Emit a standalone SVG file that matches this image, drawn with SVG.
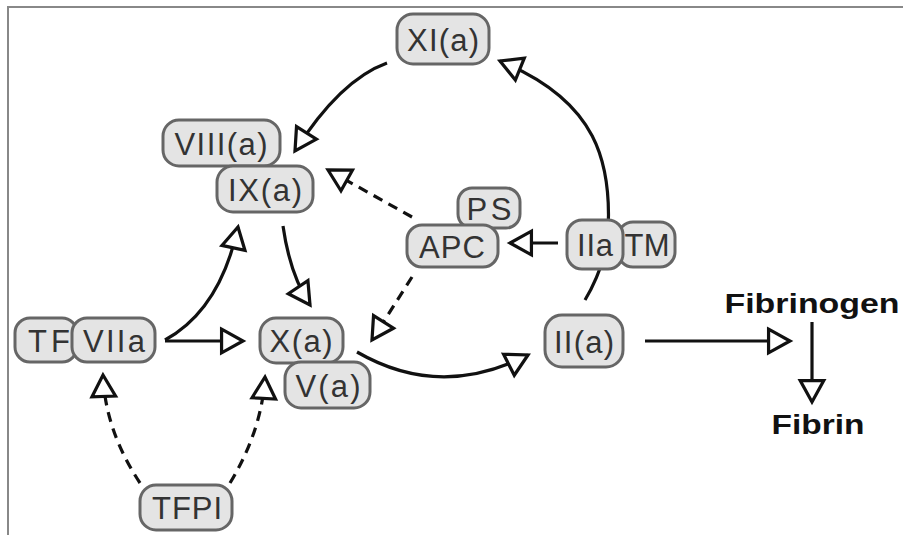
<svg xmlns="http://www.w3.org/2000/svg" width="903" height="535" viewBox="0 0 903 535">
<style>
.n rect{fill:#e4e4e4;stroke:#666;stroke-width:3}
.n text{font-family:"Liberation Sans",Arial,sans-serif;font-size:31px;fill:#333;text-anchor:middle}
.c path,.c line{fill:none;stroke:#111;stroke-width:3.2;marker-end:url(#ah)}
.c .d{stroke-dasharray:10 7}
.lbl{font-family:"Liberation Sans",Arial,sans-serif;font-weight:bold;font-size:28px;fill:#111;text-anchor:middle}
</style>
<defs>
<marker id="ah" markerUnits="userSpaceOnUse" markerWidth="30" markerHeight="30" viewBox="-3 -14 28 28" refX="20" refY="0" orient="auto">
<path d="M0,-11 L20,0 L0,11 Z" fill="#fff" stroke="#111" stroke-width="3" stroke-linejoin="miter"/>
</marker>
</defs>
<rect width="903" height="535" fill="#fff"/>
<path d="M8,535 V7 H903" fill="none" stroke="#888" stroke-width="2"/>

<g class="c" id="connectors">
<path d="M387,63 Q340,80 295,151"/>
<path d="M585,300 Q600,275 607,245 C615,160 595,100 500,61"/>
<line class="d" x1="412" y1="217" x2="328" y2="170"/>
<line x1="558" y1="243" x2="510" y2="243"/>
<path d="M165,340 Q220,310 238,227"/>
<line x1="165" y1="341" x2="243" y2="341"/>
<path d="M283,226 Q290,275 310,305"/>
<line class="d" x1="412" y1="277" x2="372" y2="340"/>
<path d="M357,352 Q440,400 528,355"/>
<path class="d" d="M140,483 Q105,430 103,375"/>
<path class="d" d="M230,483 Q262,430 265,377"/>
<line x1="645" y1="341" x2="790" y2="341"/>
<line x1="812" y1="322" x2="812" y2="402"/>
</g>

<g class="n" id="XIa"><rect x="397" y="14" width="92" height="50" rx="16"/><text x="443" y="51" textLength="72">XI(a)</text></g>
<g class="n" id="VIIIa"><rect x="163" y="120" width="117" height="46" rx="16"/><text x="221" y="155" textLength="93">VIII(a)</text></g>
<g class="n" id="IXa"><rect x="217" y="166" width="96" height="46" rx="16"/><text x="265" y="201" textLength="74">IX(a)</text></g>
<g class="n" id="PS"><rect x="458" y="188" width="62" height="40" rx="14"/><text x="489" y="220" textLength="45">PS</text></g>
<g class="n" id="APC"><rect x="407" y="225" width="91" height="42" rx="15"/><text x="452" y="258" textLength="66">APC</text></g>
<g class="n" id="TM"><rect x="618" y="222" width="57" height="45" rx="15"/><text x="647" y="256" textLength="45">TM</text></g>
<g class="n" id="IIa"><rect x="567" y="220" width="56" height="49" rx="15"/><text x="595" y="256" textLength="36">IIa</text></g>
<g class="n" id="IIa2"><rect x="545" y="315" width="78" height="52" rx="17"/><text x="584" y="353" textLength="60">II(a)</text></g>
<g class="n" id="TF"><rect x="15" y="318" width="62" height="44" rx="15"/><text x="49" y="352" textLength="42">TF</text></g>
<g class="n" id="VIIa"><rect x="72" y="318" width="83" height="44" rx="15"/><text x="114" y="352" textLength="62">VIIa</text></g>
<g class="n" id="Xa"><rect x="260" y="318" width="83" height="45" rx="16"/><text x="301" y="352" textLength="63">X(a)</text></g>
<g class="n" id="Va"><rect x="285" y="362" width="85" height="46" rx="16"/><text x="328" y="397" textLength="65">V(a)</text></g>
<g class="n" id="TFPI"><rect x="140" y="485" width="92" height="45" rx="16"/><text x="187" y="519" textLength="70">TFPI</text></g>

<g id="Fibrinogen"><text class="lbl" x="812" y="313" textLength="175" lengthAdjust="spacingAndGlyphs">Fibrinogen</text></g>
<g id="Fibrin"><text class="lbl" x="818" y="434" textLength="93" lengthAdjust="spacingAndGlyphs">Fibrin</text></g>
</svg>
